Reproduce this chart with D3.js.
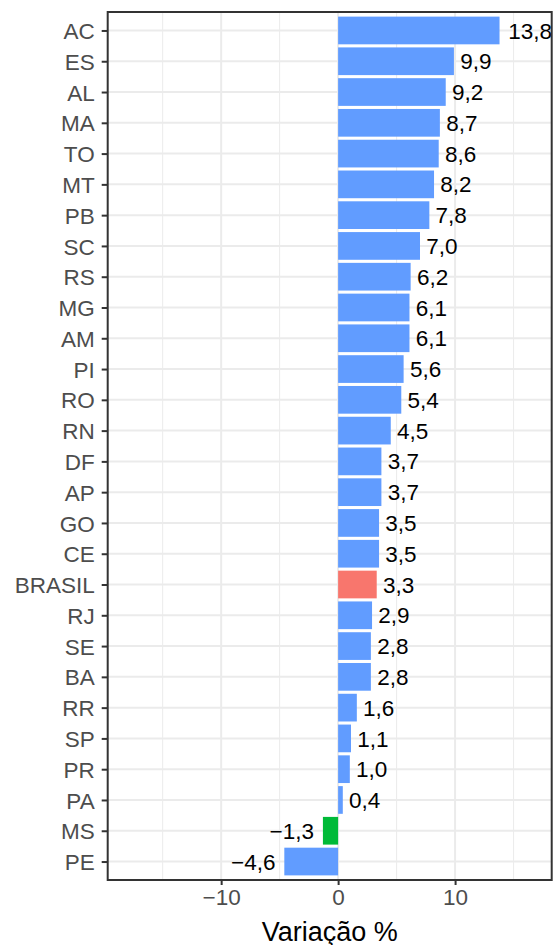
<!DOCTYPE html>
<html>
 <head>
  <meta charset="utf-8">
  <title>Variação % por UF</title>
  <script src="https://cdnjs.cloudflare.com/ajax/libs/d3/7.8.5/d3.min.js"></script>
  <style>
    body { margin: 0; background: #fff; }
    text { font-family: "Liberation Sans", Arial, sans-serif; }
  </style>
 </head>
 <body>
  <script>
    // data
    var ufs = ["AC", "ES", "AL", "MA", "TO", "MT", "PB", "SC", "RS", "MG", "AM", "PI", "RO", "RN",
               "DF", "AP", "GO", "CE", "BRASIL", "RJ", "SE", "BA", "RR", "SP", "PR", "PA", "MS", "PE"];
    var variacao = [13.8, 9.9, 9.2, 8.7, 8.6, 8.2, 7.8, 7.0, 6.2, 6.1, 6.1, 5.6, 5.4, 4.5,
                    3.7, 3.7, 3.5, 3.5, 3.3, 2.9, 2.8, 2.8, 1.6, 1.1, 1.0, 0.4, -1.3, -4.6];
    var grupo = ufs.map(function(u) {
      return u == "BRASIL" ? "brasil" : (u == "MS" ? "ms" : "uf");
    });
    var majorTicks = [-10, 0, 10];
    var minorTicks = [-15, -5, 5, 15];

    var cores = { uf: "#619CFF", brasil: "#F8766D", ms: "#00BA38" };

    var width = 553, height = 945;
    // panel edges (note: "top" is taken by window.top, so prefix them)
    var pLeft = 107.7, pRight = 551.7, pTop = 12, pBottom = 880;

    var fmt = d3.formatLocale({ decimal: ",", thousands: ".", grouping: [3],
                                currency: ["", ""], minus: "\u2212" });
    var fmt1 = fmt.format(".1f");
    var fmt0 = fmt.format("d");

    var svg = d3.select("body")
                .append("svg")
                .attr("width", width)
                .attr("height", height);

    var x = d3.scaleLinear().domain([-19.7, 18.26]).range([pLeft, pRight]);

    // 28 bands with ggplot's 0.6 expansion on each end
    var step = (pBottom - pTop) / (ufs.length - 1 + 1.2);
    var y = d3.scalePoint().domain(ufs)
              .range([pTop + 0.6 * step, pBottom - 0.6 * step]);
    var barH = step * 0.9;

    // grid
    svg.append("g").selectAll("line").data(minorTicks).join("line")
       .attr("x1", function(d) { return x(d); })
       .attr("x2", function(d) { return x(d); })
       .attr("y1", pTop).attr("y2", pBottom)
       .attr("stroke", "#EBEBEB").attr("stroke-width", 1);

    svg.append("g").selectAll("line").data(majorTicks).join("line")
       .attr("x1", function(d) { return x(d); })
       .attr("x2", function(d) { return x(d); })
       .attr("y1", pTop).attr("y2", pBottom)
       .attr("stroke", "#EBEBEB").attr("stroke-width", 2);

    svg.append("g").selectAll("line").data(ufs).join("line")
       .attr("x1", pLeft).attr("x2", pRight)
       .attr("y1", function(d) { return y(d); })
       .attr("y2", function(d) { return y(d); })
       .attr("stroke", "#EBEBEB").attr("stroke-width", 2);

    // bars
    svg.append("g").selectAll("rect").data(ufs).join("rect")
       .attr("x", function(d, i) { return x(Math.min(0, variacao[i])); })
       .attr("y", function(d) { return y(d) - barH / 2; })
       .attr("width", function(d, i) { return Math.abs(x(variacao[i]) - x(0)); })
       .attr("height", barH)
       .attr("fill", function(d, i) { return cores[grupo[i]]; });

    // value labels, hjust -0.2 / 1.2 like geom_text
    var labels = svg.append("g").selectAll("text").data(ufs).join("text")
       .attr("y", function(d) { return y(d); })
       .attr("dy", "0.36em")
       .attr("font-size", "22.5px")
       .attr("fill", "#000")
       .attr("text-anchor", function(d, i) { return variacao[i] < 0 ? "end" : "start"; })
       .text(function(d, i) { return fmt1(variacao[i]); });

    labels.attr("x", function(d, i) {
      var w = this.getComputedTextLength();
      return variacao[i] < 0 ? x(variacao[i]) - 0.2 * w : x(variacao[i]) + 0.2 * w;
    });

    // axes
    var xAxis = svg.append("g")
       .attr("transform", "translate(0," + pBottom + ")")
       .call(d3.axisBottom(x).tickValues(majorTicks).tickFormat(fmt0)
               .tickSize(5).tickPadding(4));

    var yAxis = svg.append("g")
       .attr("transform", "translate(" + pLeft + ",0)")
       .call(d3.axisLeft(y).tickSize(6).tickPadding(7));

    [xAxis, yAxis].forEach(function(ax) {
      ax.select(".domain").remove();
      ax.selectAll(".tick line").attr("stroke", "#333333").attr("stroke-width", 2);
      ax.selectAll(".tick text")
        .attr("fill", "#4D4D4D")
        .attr("font-size", "22.5px")
        .attr("font-family", "Liberation Sans, Arial, sans-serif");
    });
    yAxis.selectAll(".tick text").attr("dy", "0.36em");

    // panel border
    svg.append("rect")
       .attr("x", pLeft).attr("y", pTop)
       .attr("width", pRight - pLeft).attr("height", pBottom - pTop)
       .attr("fill", "none")
       .attr("stroke", "#333333")
       .attr("stroke-width", 2);

    // axis title
    svg.append("text")
       .attr("x", (pLeft + pRight) / 2)
       .attr("y", 941)
       .attr("text-anchor", "middle")
       .attr("font-size", "27px")
       .attr("fill", "#000")
       .text("Variação %");
  </script>
 </body>
</html>
